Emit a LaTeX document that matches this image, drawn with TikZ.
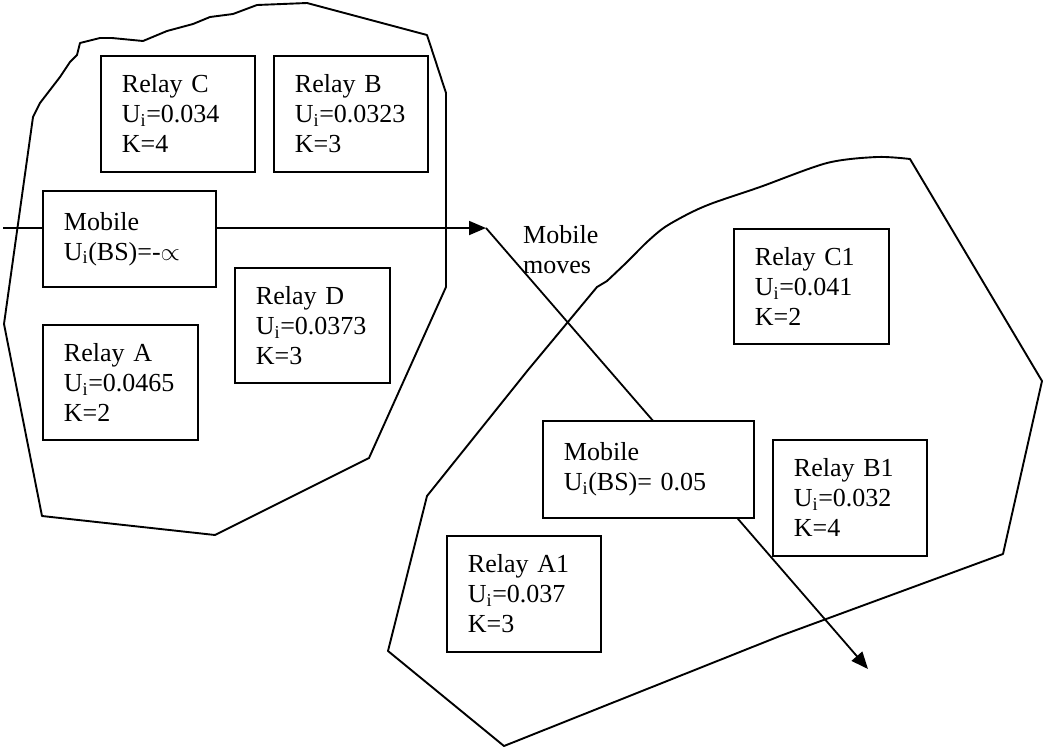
\documentclass[tikz,border=0pt]{standalone}
\usepackage{fontspec}
\setmainfont{Liberation Serif}
\usetikzlibrary{arrows.meta}
\begin{document}
\begin{tikzpicture}[x=1pt,y=-1pt,
  outline/.style={line width=1.9pt, line join=round},
  flow/.style={line width=1.8pt, -{Triangle[length=17pt,width=14pt]}},
  relay/.style={draw, line width=1.9pt, fill=white, anchor=north west,
    align=left, inner xsep=21pt, inner ysep=0pt,
    text width=#1, minimum width=#1+42pt,
    font=\fontsize{26}{30}\selectfont},
  lbl/.style={anchor=north west, align=left, inner sep=0pt,
    font=\fontsize{26}{30}\selectfont}]
\useasboundingbox (0,0) rectangle (1045,748);
% left cell
\draw[outline] plot coordinates {(33,117) (40,103) (50,90) (60,77) (70,62) (77,55) (80,43) (100,38) (112,38) (143,41) (167,31) (193,24) (210,17) (233,14) (257,5) (307,3)}
  -- (427,35) -- (446,93) -- (446,287) -- (369,458) -- (215,535) -- (42,516) -- (4,324) -- cycle;
% right cell
\draw[outline] (528,370) -- (597,287)
  -- plot[smooth, tension=0.5] coordinates {(607,281) (627,262) (647,242) (665,227) (690,213) (713,203) (760,187) (827,163) (877,157) (910,159)}
  -- (1042,381) -- (1003,554) -- (780,636) -- (504,746) -- (388,651) -- (427,496) -- cycle;
% movement path
\coordinate (start) at (3,228);
\coordinate (turn) at (486,228);
\coordinate (end) at (868,669);
\draw[flow] (start) -- (turn);
\draw[flow] (turn) -- (end);
% boxes
\node[relay=112pt, minimum height=116pt] (rc) at (100,55) {Relay C\\U\textsubscript{i}=0.034\\K=4};
\node[relay=112pt, minimum height=116pt] (rb) at (273,55) {Relay B\\U\textsubscript{i}=0.0323\\K=3};
\node[relay=131pt, minimum height=96pt] (ml) at (42,190) {Mobile\\U\textsubscript{i}(BS)=-$\propto$};
\node[relay=113pt, minimum height=115pt] (rd) at (234,267) {Relay D\\U\textsubscript{i}=0.0373\\K=3};
\node[relay=113pt, minimum height=115pt] (ra) at (42,324) {Relay A\\U\textsubscript{i}=0.0465\\K=2};
\node[relay=113pt, minimum height=115pt] (rc1) at (733,228) {Relay C1\\U\textsubscript{i}=0.041\\K=2};
\node[relay=112pt, minimum height=116pt] (rb1) at (772,439) {Relay B1\\U\textsubscript{i}=0.032\\K=4};
\node[relay=169pt, minimum height=97pt] (mr) at (542,420) {Mobile\\U\textsubscript{i}(BS)= 0.05};
\node[relay=112pt, minimum height=116pt] (ra1) at (446,535) {Relay A1\\U\textsubscript{i}=0.037\\K=3};
\node[lbl] (mv) at (523,225) {Mobile\\moves};
\end{tikzpicture}
\end{document}
